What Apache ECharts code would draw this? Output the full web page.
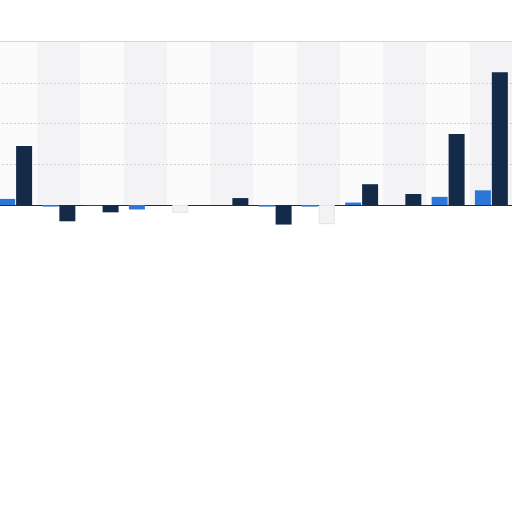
<!DOCTYPE html>
<html>
<head>
<meta charset="utf-8">
<script src="https://cdn.jsdelivr.net/npm/echarts@6/dist/echarts.min.js"></script>
<style>
  html, body { margin: 0; padding: 0; background: #ffffff; }
  #chart { width: 512px; height: 512px; }
</style>
</head>
<body>
<div id="chart"></div>
<script>
// categories (labels are not shown in the picture)
var categories = ['1', '2', '3', '4', '5', '6', '7', '8', '9', '10', '11', '12'];
// blue series
var blueValues = [1.5, -0.4, -0.1, -1.1, -1.9, 0, -0.4, -0.4, 0.6, 0, 2.0, 3.6];
// navy series
var navyValues = [14.5, -4.0, -1.8, -0.2, 0, 1.7, -4.8, -4.7, 5.1, 2.7, 17.4, 32.6];
// faded bars (index in each series)
var blueFaded = [4];
var navyFaded = [7];
var yTicks = [0, 10, 20, 30, 40];

var fadedStyle = { color: '#f3f3f3', borderColor: '#e4e4e4', borderWidth: 1 };

function buildData(values, faded){
  var out = [];
  for (var i = 0; i < values.length; i++) {
    if (faded.indexOf(i) >= 0) {
      out.push({ value: values[i], itemStyle: fadedStyle });
    } else {
      out.push(values[i]);
    }
  }
  return out;
}

var myChart = echarts.init(document.getElementById('chart'));
var option = {
  animation: false,
  backgroundColor: '#ffffff',
  grid: {
    left: -6, width: 519, top: 42, bottom: 307,
    containLabel: false,
    outerBoundsMode: 'none',
    show: true,
    borderColor: '#c9c9c9',
    borderWidth: 1.5,
    backgroundColor: 'transparent'
  },
  xAxis: {
    type: 'category',
    data: categories,
    z: 0,
    axisLabel: { show: false },
    axisTick: { show: false },
    axisLine: { show: true, lineStyle: { color: '#2b2b2b', width: 1 } },
    splitArea: { show: true, areaStyle: { color: ['#fbfbfb', '#f3f3f5'] } }
  },
  yAxis: {
    type: 'value',
    min: yTicks[0],
    max: yTicks[yTicks.length - 1],
    interval: 10,
    z: 1,
    axisLabel: { show: false },
    axisTick: { show: false },
    axisLine: { show: false },
    splitLine: {
      show: true,
      showMinLine: false,
      showMaxLine: false,
      lineStyle: { color: '#d0d0d0', type: [2, 2], width: 1 }
    }
  },
  series: [
    {
      name: 'blue',
      type: 'bar',
      clip: false,
      barWidth: 16,
      barGap: '6%',
      itemStyle: { color: '#2c76d8' },
      data: buildData(blueValues, blueFaded)
    },
    {
      name: 'navy',
      type: 'bar',
      clip: false,
      barWidth: 16,
      itemStyle: { color: '#132a48' },
      data: buildData(navyValues, navyFaded)
    }
  ]
};
myChart.setOption(option);
</script>
</body>
</html>
